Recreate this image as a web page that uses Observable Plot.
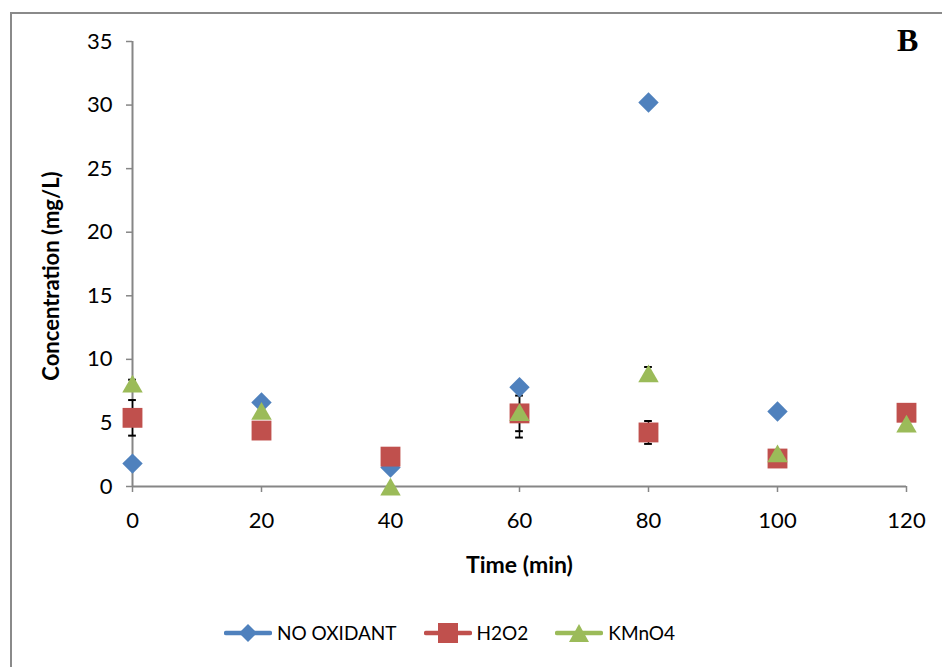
<!DOCTYPE html>
<html>
<head>
<meta charset="utf-8">
<script src="https://cdn.jsdelivr.net/npm/d3@7"></script>
<script src="https://cdn.jsdelivr.net/npm/@observablehq/plot@0.6"></script>
<style>
  html, body { margin: 0; padding: 0; background: #fff; }
  body { width: 942px; height: 667px; position: relative; overflow: hidden; font-family: Lato, "Open Sans", sans-serif; }
  #frame { position: absolute; left: 10px; top: 12px; width: 940px; height: 700px; border-left: 2px solid #8a8a8a; border-top: 2px solid #8a8a8a; box-sizing: border-box; }
  #chart { position: absolute; left: 0; top: 0; }
  #tag { position: absolute; left: 897px; top: 24px; line-height: 1; font-family: "Liberation Serif", "DejaVu Serif", serif; font-weight: bold; font-size: 32px; color: #000; }
  #legend { position: absolute; left: 224px; top: 621px; display: flex; align-items: center; font-size: 19px; color: #000; }
  .item { display: flex; align-items: center; margin-right: 27px; }
  .item svg { margin-right: 5px; }
</style>
</head>
<body>
<div id="frame"></div>
<div id="chart"></div>
<div id="tag">B</div>
<div id="legend"></div>
<script>
// ---- data ----
const times = [0, 20, 40, 60, 80, 100, 120];
const noOxidant = [1.8, 6.6, 1.5, 7.8, 30.2, 5.9, null];
const h2o2 = [5.4, 4.4, 2.35, 5.75, 4.25, 2.2, 5.8];
const kmno4 = [8.1, 5.95, 0.0, 5.85, 8.9, 2.6, 4.95];
const errH2o2 = [1.4, 0, 0, 1.4, 0.9, 0, 0];
const errKmno4 = [0.3, 0, 0, 2.0, 0.5, 0, 0];
const seriesNames = ["NO OXIDANT", "H2O2", "KMnO4"];
const seriesColors = ["#4F81BD", "#C0504D", "#9BBB59"];
const xTicks = [0, 20, 40, 60, 80, 100, 120];
const yTicks = [0, 5, 10, 15, 20, 25, 30, 35];

const rows = (vals, errs) => times.map((t, i) => ({t, v: vals[i], e: errs ? errs[i] : 0})).filter(d => d.v != null);
const dNo = rows(noOxidant);
const dH = rows(h2o2, errH2o2);
const dK = rows(kmno4, errKmno4);
const errs = [...dH, ...dK].filter(d => d.e > 0);
const capHalf = 0.6;

const axisColor = "#868686";
const chart = Plot.plot({
  width: 942,
  height: 600,
  marginLeft: 132,
  marginRight: 36,
  marginTop: 41,
  marginBottom: 114,
  style: {fontFamily: "Lato, 'Open Sans', sans-serif", fontSize: "22px", color: "#000", background: "transparent"},
  x: {domain: [0, 120]},
  y: {domain: [0, 35]},
  marks: [
    Plot.axisX({ticks: xTicks, tickSize: 6, tickPadding: 20, stroke: axisColor, strokeWidth: 1.5, fill: "#000", fontSize: 22,
      label: "Time (min)", labelAnchor: "center", labelArrow: "none", labelOffset: 86}),
    Plot.axisY({ticks: yTicks, tickSize: 6, tickPadding: 14, stroke: axisColor, strokeWidth: 1.5, fill: "#000", fontSize: 22,
      label: "Concentration (mg/L)", labelAnchor: "center", labelArrow: "none", labelOffset: 89}),
    Plot.ruleY([0], {stroke: axisColor, strokeWidth: 2}),
    Plot.ruleX([0], {stroke: axisColor, strokeWidth: 2}),
    // error bars
    Plot.ruleX(errs, {x: "t", y1: d => d.v - d.e, y2: d => d.v + d.e, stroke: "#000", strokeWidth: 1.5}),
    Plot.ruleY(errs, {y: d => d.v + d.e, x1: d => d.t - capHalf, x2: d => d.t + capHalf, stroke: "#000", strokeWidth: 2}),
    Plot.ruleY(errs, {y: d => d.v - d.e, x1: d => d.t - capHalf, x2: d => d.t + capHalf, stroke: "#000", strokeWidth: 2}),
    // points
    Plot.dot(dNo, {x: "t", y: "v", symbol: "diamond2", r: 9.2, fill: seriesColors[0], stroke: "none"}),
    Plot.dot(dH, {x: "t", y: "v", symbol: "square", r: 11.2, fill: seriesColors[1], stroke: "none"}),
    Plot.dot(dK, {x: "t", y: "v", symbol: "triangle", r: 7.6, fill: seriesColors[2], stroke: "none", dy: 3})
  ]
});
chart.querySelectorAll('[aria-label="x-axis label"] text').forEach(t => { t.setAttribute("font-weight", "bold"); t.setAttribute("font-size", "23"); });
chart.querySelectorAll('[aria-label="y-axis label"]').forEach(g => {
  g.setAttribute("transform", (g.getAttribute("transform") || "") + " translate(0,12)");
  g.querySelectorAll("text").forEach(t => t.setAttribute("font-weight", "bold"));
});
document.getElementById("chart").appendChild(chart);

// legend
const shapes = [
  c => `<path d="M24,1 L33,10 L24,19 L15,10 Z" fill="${c}"/>`,
  c => `<rect x="14" y="0" width="20" height="20" fill="${c}"/>`,
  c => `<path d="M24,1 L34,19 L14,19 Z" fill="${c}"/>`
];
const legend = document.getElementById("legend");
seriesNames.forEach((name, i) => {
  const item = document.createElement("div");
  item.className = "item";
  item.innerHTML = `<svg width="48" height="20"><line x1="2" y1="10" x2="46" y2="10" stroke="${seriesColors[i]}" stroke-width="4.5" stroke-linecap="round"/>${shapes[i](seriesColors[i])}</svg><span>${name}</span>`;
  legend.appendChild(item);
});
</script>
</body>
</html>
